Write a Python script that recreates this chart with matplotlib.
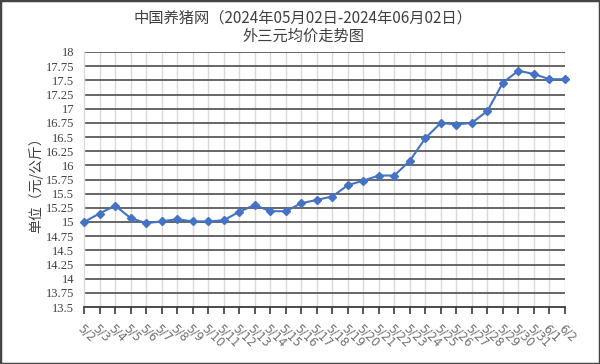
import matplotlib
matplotlib.use("Agg")
import matplotlib.pyplot as plt
from matplotlib.patches import Rectangle
import numpy as np

dates = ["5/2", "5/3", "5/4", "5/5", "5/6", "5/7", "5/8", "5/9", "5/10", "5/11",
         "5/12", "5/13", "5/14", "5/15", "5/16", "5/17", "5/18", "5/19", "5/20",
         "5/21", "5/22", "5/23", "5/24", "5/25", "5/26", "5/27", "5/28", "5/29",
         "5/30", "5/31", "6/1", "6/2"]
prices = [15.00, 15.15, 15.29, 15.07, 14.98, 15.01, 15.05, 15.01, 15.01, 15.03,
          15.18, 15.30, 15.19, 15.19, 15.33, 15.39, 15.45, 15.65, 15.73, 15.82,
          15.82, 16.08, 16.48, 16.75, 16.72, 16.75, 16.96, 17.46, 17.67, 17.61,
          17.52, 17.52]
yticks = [13.5, 13.75, 14, 14.25, 14.5, 14.75, 15, 15.25, 15.5, 15.75, 16,
          16.25, 16.5, 16.75, 17, 17.25, 17.5, 17.75, 18]
title_line1 = "中国养猪网（2024年05月02日-2024年06月02日）"
title_line2 = "外三元均价走势图"
ylabel = "单位（元/公斤）"

cjk = ["Noto Sans CJK SC", "DejaVu Sans"]
serif = ["Liberation Serif", "DejaVu Serif"]

fig = plt.figure(figsize=(6.0, 3.64), dpi=100)
ax = fig.add_axes([84 / 600, 1 - 307 / 364, (565 - 84) / 600, (307 - 52) / 364])

x = np.arange(len(dates))
ax.set_xlim(0, len(dates) - 1)
ax.set_ylim(13.5, 18)

# grid
ax.set_yticks(yticks)
ax.set_xticks(x)
for yv in yticks[1:]:
    ax.axhline(yv, color="#5a5a5a", lw=1.3, zorder=1)
for xv in x[1:]:
    ax.axvline(xv, color="#d9d9d9", lw=1.0, zorder=0.5)

for s in ["top", "right"]:
    ax.spines[s].set_visible(False)
ax.spines["left"].set_color("#d9d9d9")
ax.spines["left"].set_linewidth(1.0)
ax.spines["bottom"].set_color("#3a3a3a")
ax.spines["bottom"].set_linewidth(1.3)

ax.plot(x, prices, color="#4472C4", lw=1.5, marker="D", markersize=3.8,
        markerfacecolor="#4472C4", markeredgecolor="#4472C4", zorder=3,
        clip_on=False)

ax.tick_params(axis="y", length=0, pad=7, labelsize=9, labelcolor="#404040")
ax.tick_params(axis="x", length=5, width=1.2, color="#3a3a3a", direction="out",
               pad=6)
ax.set_yticklabels([("%g" % v) for v in yticks], family=serif)
ax.set_xticklabels(dates, rotation=-45, ha="left", va="top",
                   rotation_mode="anchor", fontsize=8.5, color="#707070",
                   family=["DejaVu Sans"])

ax.set_ylabel(ylabel, family=cjk, fontsize=10, color="#404040")
ax.yaxis.set_label_coords(-0.085, 0.49)

fig.text(0.505, 0.950, title_line1, ha="center", va="center", family=cjk,
         fontsize=11, color="#404040")
fig.text(0.505, 0.900, title_line2, ha="center", va="center", family=cjk,
         fontsize=11, color="#404040")

fig.patches.append(Rectangle((0, 0), 1, 1, transform=fig.transFigure,
                             fill=False, edgecolor="#444444", lw=2.5))

fig.savefig("out.png", dpi=100)
